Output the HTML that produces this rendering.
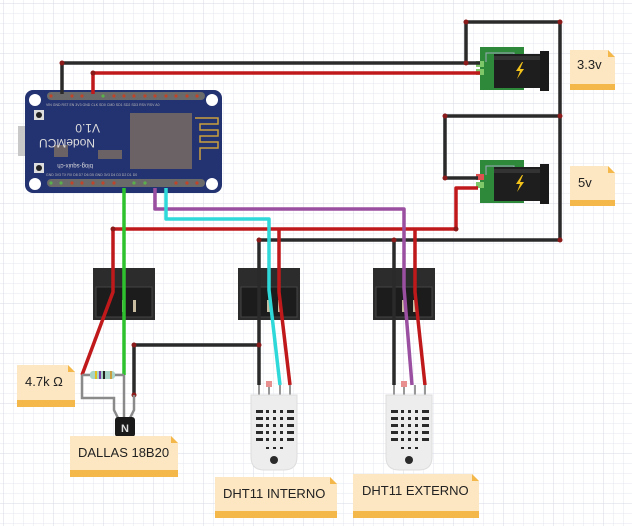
<!DOCTYPE html>
<html><head><meta charset="utf-8"><style>
html,body{margin:0;padding:0;background:#fff;}
svg{display:block}
text{font-family:"Liberation Sans",sans-serif;}
</style></head><body>
<svg width="632" height="526" viewBox="0 0 632 526" xmlns="http://www.w3.org/2000/svg">
<defs>
<pattern id="g" width="10" height="10" patternUnits="userSpaceOnUse" x="3" y="3">
<path d="M10 0H0V10" fill="none" stroke="#e3e7ee" stroke-width="1"/>
</pattern>
<pattern id="G" width="50" height="50" patternUnits="userSpaceOnUse" x="3" y="3">
<path d="M50 0H0V50" fill="none" stroke="#d4d9e3" stroke-width="1"/>
</pattern>
</defs>
<rect width="632" height="526" fill="url(#g)"/>
<rect width="632" height="526" fill="url(#G)"/>

<!-- NodeMCU -->
<rect x="18" y="126" width="14" height="30" fill="#c8c8c8"/>
<rect x="25" y="90" width="197" height="103" rx="8" fill="#233270"/>
<circle cx="35" cy="100" r="6" fill="#fff"/><circle cx="212" cy="100" r="6" fill="#fff"/>
<circle cx="35" cy="184" r="6" fill="#fff"/><circle cx="212" cy="184" r="6" fill="#fff"/>
<rect x="34" y="110" width="10" height="10" fill="#ddd"/><circle cx="39" cy="115" r="3" fill="#222"/>
<rect x="34" y="163" width="10" height="10" fill="#ddd"/><circle cx="39" cy="168" r="3" fill="#222"/>
<rect x="130" y="113" width="62" height="56" fill="#6b6265"/>
<path d="M195 118h23v6h-18v6h18v6h-18v6h18v6h-18v12" fill="none" stroke="#c9a03c" stroke-width="1.5"/>
<rect x="54" y="145" width="14" height="12" fill="#6b6265"/>
<rect x="98" y="150" width="24" height="9" fill="#6b6265"/>
<text x="100" y="132" font-size="12" fill="#ddd" transform="rotate(180 100 128)">V1.0</text>
<text x="95" y="147" font-size="12" fill="#ddd" transform="rotate(180 95 143)">NodeMCU</text>
<text x="93" y="168" font-size="6" fill="#ddd" transform="rotate(180 93 166)">blog-squix-ch</text>
<g fill="#6a6a6a">
<rect x="47" y="92" width="158" height="8" rx="4"/>
<rect x="47" y="179" width="158" height="8" rx="4"/>
</g>
<g fill="#c0442a">
<circle cx="51" cy="96" r="1.6"/><circle cx="72" cy="96" r="1.6"/><circle cx="82" cy="96" r="1.6"/><circle cx="114" cy="96" r="1.6"/><circle cx="124" cy="96" r="1.6"/><circle cx="134" cy="96" r="1.6"/><circle cx="145" cy="96" r="1.6"/><circle cx="155" cy="96" r="1.6"/><circle cx="166" cy="96" r="1.6"/><circle cx="176" cy="96" r="1.6"/><circle cx="187" cy="96" r="1.6"/><circle cx="197" cy="96" r="1.6"/>
<circle cx="72" cy="183" r="1.6"/><circle cx="82" cy="183" r="1.6"/><circle cx="93" cy="183" r="1.6"/><circle cx="103" cy="183" r="1.6"/><circle cx="114" cy="183" r="1.6"/><circle cx="176" cy="183" r="1.6"/><circle cx="187" cy="183" r="1.6"/><circle cx="197" cy="183" r="1.6"/>
</g>
<g fill="#5ab04a"><circle cx="103" cy="96" r="1.6"/><circle cx="51" cy="183" r="1.6"/><circle cx="61" cy="183" r="1.6"/><circle cx="134" cy="183" r="1.6"/><circle cx="145" cy="183" r="1.6"/></g>
<g font-size="3.5" fill="#bbb"><text x="46" y="106">VIN GND RST EN 3V3 GND CLK SD0 CMD SD1 SD2 SD3 RSV RSV A0</text><text x="46" y="176">GND 3V3 TX RX D8 D7 D6 D5 GND 3V3 D4 D3 D2 D1 D0</text></g>

<!-- Power modules -->
<g id="pm">
<rect x="480" y="47" width="44" height="43" fill="#2e8a3a"/>
<path d="M486 62v-9h28v9" fill="none" stroke="#9ab" stroke-width="1"/>
<rect x="494" y="54" width="46" height="34" fill="#1e1e1e"/>
<rect x="494" y="56" width="46" height="4" fill="#333"/>
<rect x="540" y="51" width="9" height="40" fill="#1a1a1a"/>
<path d="M522 62l-6 9h4l-3 8 7-10h-4l3-7z" fill="#f2c21b"/>
</g>
<use href="#pm" y="113"/>
<rect x="476" y="61" width="8" height="6" fill="#7ec86a"/><rect x="476" y="69" width="8" height="6" fill="#7ec86a"/>
<rect x="476" y="174" width="8" height="6" fill="#e05050"/><rect x="476" y="182" width="8" height="6" fill="#7ec86a"/>

<!-- Connectors -->
<g id="cn">
<rect x="93" y="268" width="62" height="52" fill="#2c2c2c"/>
<rect x="96" y="287" width="56" height="30" fill="#1c1c1c" stroke="#444"/>
<rect x="122" y="300" width="3" height="12" fill="#c8bda0"/><rect x="133" y="300" width="3" height="12" fill="#c8bda0"/>
</g>
<use href="#cn" x="145"/><use href="#cn" x="280"/>

<!-- Wires -->
<g fill="none" stroke-width="3.5" stroke-linejoin="round">
<path d="M62 94V63H466V22H560V240H259" stroke="#2a2a2a"/>
<path d="M466 63H480" stroke="#2a2a2a"/>
<path d="M93 94V73H480" stroke="#c0191b"/>
<path d="M560 116H445V178H478" stroke="#2a2a2a"/>
<path d="M478 188H456V229H113V292L82 375" stroke="#c0191b"/>
<path d="M279 229V292L290 385" stroke="#c0191b"/>
<path d="M415 229V292L425 385" stroke="#c0191b"/>
<path d="M259 240V385" stroke="#2a2a2a"/>
<path d="M394 240V385" stroke="#2a2a2a"/>
<path d="M134 395V345H259" stroke="#2a2a2a"/>
<path d="M155 188V209H404V288L412 385" stroke="#9b4fa0"/>
<path d="M166 188V219H269V290L280 385" stroke="#2fd9d9"/>
<path d="M124 188V375" stroke="#2ec22e"/>
</g>
<g fill="#8b1a1a"><circle cx="466" cy="22" r="2.5"/><circle cx="560" cy="22" r="2.5"/><circle cx="466" cy="63" r="2.5"/><circle cx="62" cy="63" r="2.5"/><circle cx="93" cy="73" r="2.5"/><circle cx="560" cy="116" r="2.5"/><circle cx="445" cy="116" r="2.5"/><circle cx="445" cy="178" r="2.5"/><circle cx="456" cy="229" r="2.5"/><circle cx="560" cy="240" r="2.5"/><circle cx="113" cy="229" r="2.5"/><circle cx="259" cy="240" r="2.5"/><circle cx="394" cy="240" r="2.5"/><circle cx="134" cy="345" r="2.5"/><circle cx="259" cy="345" r="2.5"/><circle cx="134" cy="395" r="2.5"/></g>

<!-- Resistor + DS18B20 -->
<g fill="none" stroke="#8a8a8a" stroke-width="2.5">
<path d="M82 375H124"/><path d="M82 375V398H114V410L118 418"/><path d="M124 375V418"/><path d="M134 395V410L130 418"/>
</g>
<rect x="90" y="371" width="25" height="8" rx="3" fill="#a8d4c8"/>
<rect x="95" y="371" width="2" height="8" fill="#e0c020"/><rect x="99" y="371" width="2" height="8" fill="#7a3ca8"/><rect x="103" y="371" width="2" height="8" fill="#222"/><rect x="110" y="371" width="2" height="8" fill="#c8a040"/>
<rect x="115" y="417" width="20" height="20" rx="3" fill="#1a1a1a"/>
<text x="125" y="432" font-size="11" font-weight="bold" fill="#ddd" text-anchor="middle">N</text>

<!-- DHT -->
<g id="dh">
<g stroke="#999" stroke-width="2"><path d="M259 385v10M269 385v10M280 385v10M290 385v10"/></g>
<rect x="266" y="381" width="6" height="6" fill="#e89090"/>
<path d="M251 395h46v62q0 13-13 13h-20q-13 0-13-13z" fill="#ededed" stroke="#ddd"/>
<g fill="#2a2a2a">
<rect x="256" y="410" width="7" height="3"/><rect x="266" y="410" width="3" height="3"/><rect x="273" y="410" width="3" height="3"/><rect x="280" y="410" width="3" height="3"/><rect x="287" y="410" width="7" height="3"/>
<rect x="256" y="417" width="7" height="3"/><rect x="266" y="417" width="3" height="3"/><rect x="273" y="417" width="3" height="3"/><rect x="280" y="417" width="3" height="3"/><rect x="287" y="417" width="7" height="3"/>
<rect x="256" y="424" width="7" height="3"/><rect x="266" y="424" width="3" height="3"/><rect x="273" y="424" width="3" height="3"/><rect x="280" y="424" width="3" height="3"/><rect x="287" y="424" width="7" height="3"/>
<rect x="256" y="431" width="7" height="3"/><rect x="266" y="431" width="3" height="3"/><rect x="273" y="431" width="3" height="3"/><rect x="280" y="431" width="3" height="3"/><rect x="287" y="431" width="7" height="3"/>
<rect x="256" y="438" width="7" height="3"/><rect x="266" y="438" width="3" height="3"/><rect x="273" y="438" width="3" height="3"/><rect x="280" y="438" width="3" height="3"/><rect x="287" y="438" width="7" height="3"/>
<rect x="266" y="447" width="3" height="2"/><rect x="273" y="447" width="3" height="2"/><rect x="280" y="447" width="3" height="2"/>
<circle cx="274" cy="460" r="4"/>
</g>
</g>
<use href="#dh" x="135"/>

<!-- Notes -->
<g font-size="13" fill="#222">
<path d="M570 50h38l7 7v33h-45z" fill="#fde7c3"/><rect x="570" y="84" width="45" height="6" fill="#f4b84a"/><path d="M608 50v7h7z" fill="#f4b84a"/>
<text x="577" y="69">3.3v</text>
<path d="M570 166h38l7 7v33h-45z" fill="#fde7c3"/><rect x="570" y="200" width="45" height="6" fill="#f4b84a"/><path d="M608 166v7h7z" fill="#f4b84a"/>
<text x="578" y="187">5v</text>
<path d="M17 365h51l7 7v34h-58z" fill="#fde7c3"/><rect x="17" y="400" width="58" height="7" fill="#f4b84a"/><path d="M68 365v7h7z" fill="#f4b84a"/>
<text x="25" y="386">4.7k Ω</text>
<path d="M70 436h101l7 7v34h-108z" fill="#fde7c3"/><rect x="70" y="470" width="108" height="7" fill="#f4b84a"/><path d="M171 436v7h7z" fill="#f4b84a"/>
<text x="78" y="457">DALLAS 18B20</text>
<path d="M215 477h115l7 7v34h-122z" fill="#fde7c3"/><rect x="215" y="511" width="122" height="7" fill="#f4b84a"/><path d="M330 477v7h7z" fill="#f4b84a"/>
<text x="223" y="498">DHT11 INTERNO</text>
<path d="M353 474h119l7 7v37h-126z" fill="#fde7c3"/><rect x="353" y="511" width="126" height="7" fill="#f4b84a"/><path d="M472 474v7h7z" fill="#f4b84a"/>
<text x="362" y="495">DHT11 EXTERNO</text>
</g>
</svg>
</body></html>
